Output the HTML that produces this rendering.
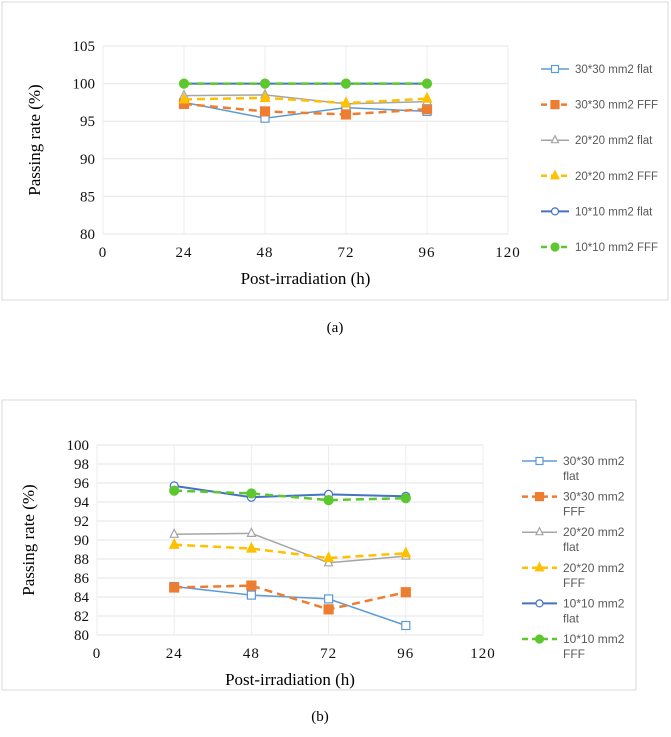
<!DOCTYPE html>
<html><head><meta charset="utf-8"><style>
body{margin:0;background:#fff;width:671px;height:737px;overflow:hidden}
svg{display:block}
</style></head><body>
<svg id="s" width="671" height="737" xmlns="http://www.w3.org/2000/svg">
<rect x="2" y="2" width="666" height="298" fill="#fff" stroke="#d9d9d9"/>
<rect x="2" y="400" width="634" height="290" fill="#fff" stroke="#d9d9d9"/>
<text x="335" y="332" font-family="Liberation Serif, serif" font-size="15" text-anchor="middle">(a)</text>
<text x="320" y="721" font-family="Liberation Serif, serif" font-size="15" text-anchor="middle">(b)</text>
</svg>
<script>
const xCats=[24,48,72,96];
const xTicks=[0,24,48,72,96,120];
const seriesNames=['30*30 mm2 flat','30*30 mm2 FFF','20*20 mm2 flat','20*20 mm2 FFF','10*10 mm2 flat','10*10 mm2 FFF'];
const aTicks=[80,85,90,95,100,105];
const a30flat=[97.5,95.4,96.8,96.3];
const a30fff=[97.3,96.3,95.9,96.6];
const a20flat=[98.4,98.5,97.3,97.6];
const a20fff=[97.9,98.1,97.4,98.0];
const a10flat=[100,100,100,100];
const a10fff=[100,100,100,100];
const bTicks=[80,82,84,86,88,90,92,94,96,98,100];
const b30flat=[85.1,84.2,83.8,81.0];
const b30fff=[85.0,85.2,82.7,84.5];
const b20flat=[90.6,90.7,87.6,88.3];
const b20fff=[89.5,89.1,88.1,88.6];
const b10flat=[95.7,94.5,94.8,94.6];
const b10fff=[95.2,94.9,94.2,94.4];

const styles=[
 {c:'#5b9bd5',w:1.5,d:'',m:'sq',f:false},
 {c:'#ed7d31',w:2.5,d:'8,5',m:'sq',f:true},
 {c:'#a5a5a5',w:1.5,d:'',m:'tri',f:false},
 {c:'#ffc000',w:2.5,d:'8,5',m:'tri',f:true},
 {c:'#4472c4',w:2,d:'',m:'circ',f:false},
 {c:'#5cc72e',w:2.5,d:'8,5',m:'circ',f:true}];
const NS='http://www.w3.org/2000/svg';
const svg=document.getElementById('s');
function mk(t,a,p){const e=document.createElementNS(NS,t);for(const k in a)e.setAttribute(k,a[k]);(p||svg).appendChild(e);return e;}
function marker(g,st,x,y,r,sname){
 let e;
 if(st.m==='sq')e=mk('rect',{x:x-r,y:y-r,width:2*r,height:2*r},g);
 else if(st.m==='tri')e=mk('polygon',{points:`${x},${y-r-1} ${x-r},${y+r-1} ${x+r},${y+r-1}`},g);
 else e=mk('circle',{cx:x,cy:y,r:r},g);
 e.setAttribute('fill',st.f?st.c:'#fff');e.setAttribute('stroke',st.c);e.setAttribute('stroke-width','1.2');
 
 
}
function chart(id,L,R,T,B,yTicks,data,leg){
 const y0=yTicks[0],y1=yTicks[yTicks.length-1];
 const X=v=>L+(v-0)/(120)*(R-L);
 const Y=v=>B-(v-y0)/(y1-y0)*(B-T);
 const g=mk('g',{});
 
 
 yTicks.forEach(t=>{
  const l=mk('line',{x1:L,x2:R,y1:Y(t),y2:Y(t),stroke:'#e6e6e6','stroke-width':1},g);
  
  
  const tx=mk('text',{x:L-8,y:Y(t)+5,'font-family':'Liberation Serif, serif','font-size':15,'text-anchor':'end',fill:'#111'},g);
  tx.textContent=t;
  
  
 });
 xTicks.forEach(t=>{
  const l=mk('line',{x1:X(t),x2:X(t),y1:T,y2:B,stroke:'#ececec','stroke-width':1},g);
  
  
  const tx=mk('text',{x:X(t),y:B+23,'font-family':'Liberation Serif, serif','font-size':15,'text-anchor':'middle',fill:'#111','letter-spacing':'1'},g);
  tx.textContent=t;
  
  
 });
 const xt=mk('text',{x:(L+R)/2,y:B+50,'font-family':'Liberation Serif, serif','font-size':17,'text-anchor':'middle'},g);
 xt.textContent='Post-irradiation (h)';
 
 
 const yt=mk('text',{x:0,y:0,'font-family':'Liberation Serif, serif','font-size':17,'text-anchor':'middle',transform:`translate(${L-63},${(T+B)/2}) rotate(-90)`},g);
 yt.textContent='Passing rate (%)';
 
 
 data.forEach((vals,i)=>{
  const st=styles[i];
  const sn='series-'+i;
  const p=mk('polyline',{points:vals.map((v,j)=>X(xCats[j])+','+Y(v)).join(' '),fill:'none',stroke:st.c,'stroke-width':st.w,'stroke-dasharray':st.d},g);
  
  
  vals.forEach((v,j)=>marker(g,st,X(xCats[j]),Y(v),st.f?4.5:4,sn));
 });
 seriesNames.forEach((n,i)=>{
  const st=styles[i];const y=leg.y0+i*leg.dy;
  const lg=mk('g',{},g);
  
  
  mk('line',{x1:leg.x,x2:leg.x+leg.w,y1:y,y2:y,stroke:st.c,'stroke-width':st.w,'stroke-dasharray':st.f?'6,4':''},lg);
  marker(lg,st,leg.x+leg.w/2,y,st.f?4:3.5,'legend');
  if(leg.wrap){
   const parts=n.split(' ');
   const t1=mk('text',{x:leg.x+leg.w+6,y:y+4,'font-family':'Liberation Sans, sans-serif','font-size':12,fill:'#595959'},lg);
   t1.textContent=parts[0]+' '+parts[1];
   const t2=mk('text',{x:leg.x+leg.w+6,y:y+19,'font-family':'Liberation Sans, sans-serif','font-size':12,fill:'#595959'},lg);
   t2.textContent=parts[2];
  }else{
   const t1=mk('text',{x:leg.x+leg.w+6,y:y+4,'font-family':'Liberation Sans, sans-serif','font-size':11.5,fill:'#595959'},lg);
   t1.textContent=n;
  }
 });
}
chart('chart-a',103,508,46,234,aTicks,[a30flat,a30fff,a20flat,a20fff,a10flat,a10fff],{x:541,w:28,y0:69,dy:35.6,wrap:false});
chart('chart-b',97,483,445,635,bTicks,[b30flat,b30fff,b20flat,b20fff,b10flat,b10fff],{x:522,w:35,y0:461,dy:35.6,wrap:true});
</script>
</body></html>
